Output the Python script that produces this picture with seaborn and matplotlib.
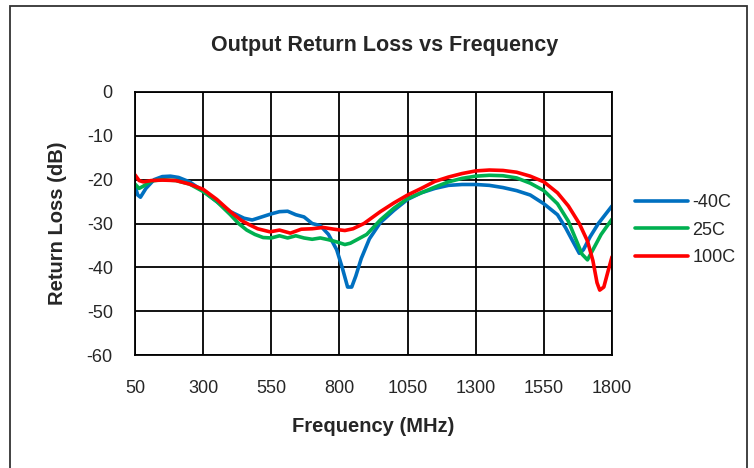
import numpy as np
import pandas as pd
import matplotlib
matplotlib.use('Agg')
import matplotlib.pyplot as plt
import seaborn as sns
from matplotlib.patches import Rectangle

# 读图估计的数据 (MHz, dB)
freq_m40 = [50, 60, 70, 90, 120, 150, 180, 210, 250, 300, 350, 400, 450, 480, 510, 550, 580, 610, 640,
            670, 700, 730, 760, 790, 810, 830, 845, 860, 880, 910, 950, 1000, 1050, 1100, 1150, 1200, 1250,
            1300, 1350, 1400, 1450, 1500, 1550, 1600, 1630, 1660, 1680, 1695, 1720, 1750, 1775, 1800]
rl_m40 = [-21.5, -23.5, -24, -22, -20, -19.3, -19.2, -19.5, -20.5, -22.6, -25, -27.3, -28.8, -29.2, -28.6,
          -27.8, -27.3, -27.2, -28, -28.5, -30, -30.5, -32.5, -36, -40, -44.5, -44.5, -42, -38, -33.5, -29.8,
          -27, -24.5, -23, -22, -21.3, -21.1, -21.1, -21.3, -21.8, -22.5, -23.5, -25.5, -28, -31, -34.5,
          -36.8, -36, -33, -30, -28, -26]

freq_25 = [50, 65, 80, 110, 150, 200, 250, 300, 350, 400, 430, 460, 490, 520, 550, 580, 610, 640, 670, 700,
           730, 760, 790, 820, 840, 870, 900, 950, 1000, 1050, 1100, 1150, 1200, 1250, 1300, 1350, 1400,
           1450, 1500, 1550, 1600, 1640, 1670, 1690, 1710, 1730, 1760, 1800]
rl_25 = [-21, -22, -21.5, -20.3, -20, -20.2, -21, -22.7, -25, -28, -30, -31.5, -32.5, -33.2, -33.3, -32.8,
         -33.3, -32.8, -33.3, -33.6, -33.3, -33.7, -34.2, -34.8, -34.5, -33.5, -32.5, -29.2, -26.5, -24.3,
         -23, -21.7, -20.5, -19.7, -19.2, -19, -19.1, -19.6, -20.8, -22.5, -25.5, -29.5, -34, -37, -38.3,
         -36, -32.5, -29]

freq_100 = [50, 65, 80, 110, 150, 200, 250, 300, 350, 400, 440, 470, 500, 545, 580, 620, 660, 700, 740, 780,
            820, 850, 890, 950, 1000, 1050, 1100, 1150, 1200, 1250, 1300, 1350, 1400, 1450, 1500, 1550,
            1600, 1640, 1680, 1710, 1730, 1745, 1755, 1770, 1785, 1800]
rl_100 = [-18.9, -20.2, -20.5, -20.2, -20.1, -20.2, -21, -22.2, -24.5, -27.3, -29.3, -30.3, -31.2, -31.9,
          -31.5, -32.2, -31.3, -31.2, -30.9, -31.3, -31.6, -31.2, -30, -27.3, -25.3, -23.5, -22, -20.4,
          -19.4, -18.6, -18, -17.8, -17.9, -18.3, -19.2, -20.5, -23, -26, -30, -34, -38.5, -43.5, -45.2,
          -44.5, -41, -37.6]

series_names = ['-40C', '25C', '100C']
series_colors = ['#0070C0', '#00B050', '#FF0000']
x_ticks = [50, 300, 550, 800, 1050, 1300, 1550, 1800]
y_ticks = [0, -10, -20, -30, -40, -50, -60]

df = pd.concat([
    pd.DataFrame({'freq': freq_m40, 'rl': rl_m40, 'temp': '-40C'}),
    pd.DataFrame({'freq': freq_25, 'rl': rl_25, 'temp': '25C'}),
    pd.DataFrame({'freq': freq_100, 'rl': rl_100, 'temp': '100C'}),
], ignore_index=True)

sns.set_style('white')
plt.rcParams['font.family'] = ['Liberation Sans', 'DejaVu Sans']
plt.rcParams['axes.unicode_minus'] = False  # 用普通连字符

fig = plt.figure(figsize=(7.54, 4.68), dpi=100)
ax = fig.add_axes([135 / 754, 1 - 355 / 468, 477 / 754, 263 / 468])

sns.lineplot(data=df, x='freq', y='rl', hue='temp', hue_order=series_names,
             palette=series_colors, linewidth=2.6, sort=False, ax=ax)

ax.set_xlim(50, 1800)
ax.set_ylim(-60, 0)
ax.set_xticks(x_ticks)
ax.set_yticks(y_ticks)
ax.tick_params(axis='both', length=0, labelsize=13)
ax.tick_params(axis='x', pad=18)
ax.tick_params(axis='y', pad=16)
ax.grid(True, color='black', linewidth=1.3)
ax.set_axisbelow(True)
for s in ax.spines.values():
    s.set_color('black')
    s.set_linewidth(1.3)

ax.set_xlabel('Frequency (MHz)', fontsize=14.5, fontweight='bold', va='center')
ax.xaxis.set_label_coords(0.5, (355 - 426) / 263)
ax.set_ylabel('Return Loss (dB)', fontsize=14.5, fontweight='bold', va='center')
ax.yaxis.set_label_coords((57 - 135) / 477, 0.5)
fig.text(385 / 754, 1 - 45 / 468, 'Output Return Loss vs Frequency', ha='center', va='center',
         fontsize=15.5, fontweight='bold')

ax.legend(loc='center left', bbox_to_anchor=(0.034, 0.475), bbox_transform=ax.transAxes, frameon=False,
          fontsize=13, handlelength=2.9, handletextpad=0.25, labelspacing=0.57, borderaxespad=0)
leg = ax.get_legend()
leg.set_bbox_to_anchor((1.034, 0.475), transform=ax.transAxes)

fig.patches.append(Rectangle((10 / 754, -0.01), 737 / 754, 1 - 6 / 468 + 0.01, transform=fig.transFigure,
                             fill=False, edgecolor='#333333', linewidth=1.3))

fig.savefig('out.png', dpi=100)
